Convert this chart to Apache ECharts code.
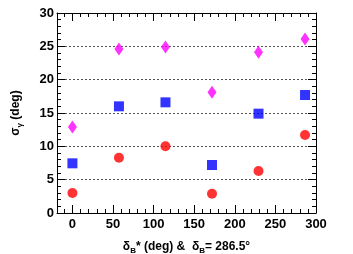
<!DOCTYPE html>
<html><head><meta charset="utf-8">
<script src="https://cdn.jsdelivr.net/npm/echarts@6/dist/echarts.min.js"></script>
<style>html,body{margin:0;padding:0;background:#fff}#c{width:353px;height:254px}</style>
</head><body><div id="c"></div>
<script>
const xValues = [0, 57.3, 114.6, 171.9, 229.2, 286.5];
const magenta = [12.9, 24.6, 24.9, 18.1, 24.1, 26.1];
const blue = [7.45, 16.0, 16.6, 7.2, 14.9, 17.7];
const red = [3.0, 8.3, 10.0, 2.9, 6.3, 11.7];
const yTicks = [0, 5, 10, 15, 20, 25, 30];
const xTicks = [0, 50, 100, 150, 200, 250, 300];

const font = 'Liberation Sans';
const pair = (arr) => xValues.map((x, i) => [x, arr[i]]);
const xMinor = [];
for (let v = -10; v <= 300; v += 10) if (v % 50 !== 0) xMinor.push(v);
const yMinor = [];
for (let v = 1; v < 30; v += 1) if (v % 5 !== 0) yMinor.push(v);

const chart = echarts.init(document.getElementById('c'));
const ls = () => ({color: '#000', width: 1});
const xAx = (pos, vals, len, labels, line) => ({
  type: 'value', min: -19, max: 300, position: pos,
  axisLine: {show: line, onZeroAxisIndex: 4, lineStyle: ls()},
  axisTick: {show: true, inside: true, length: len, customValues: vals, lineStyle: ls()},
  axisLabel: labels ? {show: true, customValues: xTicks, color: '#000', fontFamily: font, fontWeight: 'bold', fontSize: 13, margin: 5} : {show: false},
  splitLine: {show: false}
});
const yAx = (pos, vals, len, labels, line) => ({
  type: 'value', min: 0, max: 30, interval: 5, position: pos,
  axisLine: {show: line, onZeroAxisIndex: 4, lineStyle: ls()},
  axisTick: {show: true, inside: true, length: len, customValues: vals, lineStyle: ls()},
  axisLabel: labels ? {show: true, customValues: yTicks, color: '#000', fontFamily: font, fontWeight: 'bold', fontSize: 13, margin: 3} : {show: false},
  splitLine: {show: false}
});
const x0 = xAx('bottom', xTicks, 8, true, true);
Object.assign(x0, {
  name: 'δ{sub|B}* (deg) &  δ{sub|B}= 286.5°',
  nameLocation: 'middle', nameGap: 26,
  nameTextStyle: {color: '#000', fontFamily: font, fontWeight: 'bold', fontSize: 12,
    rich: {sub: {fontSize: 8, fontFamily: font, fontWeight: 'bold', color: '#000', padding: [8, 0, 0, 0]}}}
});
const y0 = yAx('left', yTicks, 8, true, true);
Object.assign(y0, {
  splitLine: {show: true, lineStyle: {color: '#555', type: [2, 2], width: 1}},
  name: 'σ{sub|γ} (deg)',
  nameLocation: 'middle', nameGap: 33,
  nameTextStyle: {color: '#000', fontFamily: font, fontWeight: 'bold', fontSize: 12,
    rich: {sub: {fontSize: 8, fontFamily: font, fontWeight: 'bold', color: '#000', padding: [8, 0, 0, 0]}}}
});
const dummyX = {type: 'value', min: 1, max: 2, show: false, position: 'bottom'};
const dummyY = {type: 'value', min: 1, max: 2, show: false, position: 'left'};
chart.setOption({
  animation: false,
  grid: {left: 57, right: 37, top: 13, bottom: 41, outerBoundsMode: 'none', containLabel: false},
  xAxis: [x0, xAx('bottom', xMinor, 4, false, false), xAx('top', xTicks, 8, false, true), xAx('top', xMinor, 4, false, false), dummyX],
  yAxis: [y0, yAx('left', yMinor, 4, false, false), yAx('right', yTicks, 8, false, true), yAx('right', yMinor, 4, false, false), dummyY],
  series: [
    {type: 'scatter', data: pair(magenta), symbol: 'diamond', symbolSize: [9, 13], itemStyle: {color: '#ff00ff'}},
    {type: 'scatter', data: pair(blue), symbol: 'rect', symbolSize: 10, itemStyle: {color: '#0000ff'}},
    {type: 'scatter', data: pair(red), symbol: 'circle', symbolSize: 10, itemStyle: {color: '#ff0000'}}
  ]
});
</script></body></html>
